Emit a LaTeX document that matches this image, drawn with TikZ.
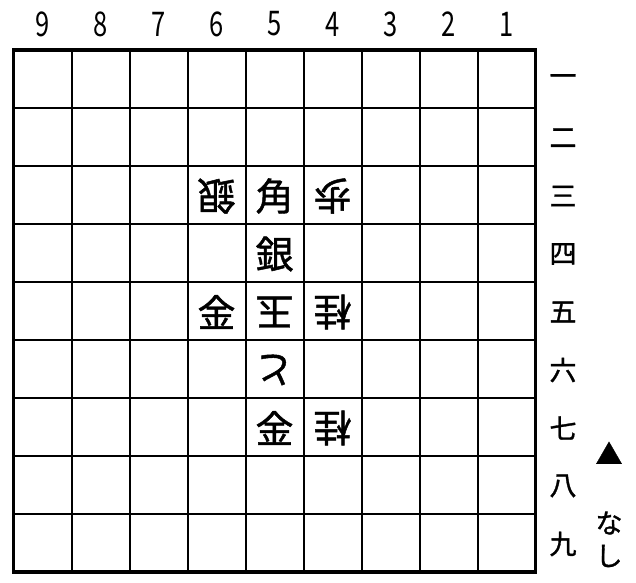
\documentclass[tikz,border=0pt]{standalone}
\usepackage{fontspec}
\setmainfont{Noto Sans CJK JP}
\newfontfamily\heavy[FakeBold=1.2]{Noto Sans CJK JP}
\begin{document}
\begin{tikzpicture}[x=1pt,y=-1pt,
  piece/.style={font=\heavy\fontsize{38}{40}\selectfont, inner sep=0pt},
  gote/.style={piece, rotate=180},
  colnum/.style={font=\fontsize{34}{36}\selectfont, inner sep=0pt, xscale=0.75},
  rownum/.style={font=\heavy\fontsize{27}{30}\selectfont, inner sep=0pt},
  side/.style={font=\heavy\fontsize{27}{30}\selectfont, inner sep=0pt}]
\useasboundingbox (0,0) rectangle (636,582);
% grid
\foreach \i in {1,...,8} {
  \draw[line width=2pt] (13.5+58*\i,50) -- (13.5+58*\i,572);
  \draw[line width=2pt] (13.5,50+58*\i) -- (535.5,50+58*\i);
}
\draw[line width=3.5pt] (13.5,50) rectangle (535.5,572);
% column numbers
\foreach \c in {1,...,9} {
  \node[colnum] (c\c) at ({13.5+58*(9-\c)+29},24) {\c};
}
% row numbers
\foreach \r/\k in {1/一,2/二,3/三,4/四,5/五,6/六,7/七,8/八,9/九} {
  \node[rownum] (r\r) at (563,{50+58*(\r-1)+30}) {\k};
}
% pieces
\newcommand{\px}[1]{{13.5+58*(9-#1)+29}}
\newcommand{\py}[1]{{50+58*(#1-1)+30}}
\node[gote]  (p63) at (\px{6},\py{3}) {銀};
\node[piece] (p53) at (\px{5},\py{3}) {角};
\node[gote]  (p43) at (\px{4},\py{3}) {歩};
\node[piece] (p54) at (\px{5},\py{4}) {銀};
\node[piece] (p65) at (\px{6},\py{5}) {金};
\node[gote]  (p55) at (\px{5},\py{5}) {玉};
\node[gote]  (p45) at (\px{4},\py{5}) {桂};
\node[gote]  (p56) at (\px{5},\py{6}) {と};
\node[piece] (p57) at (\px{5},\py{7}) {金};
\node[gote]  (p47) at (\px{4},\py{7}) {桂};
% hand
\node[side] (mark) at (609,453) {▲};
\node[side] (na) at (609,523) {な};
\node[side] (shi) at (609,556) {し};
\end{tikzpicture}
\end{document}
